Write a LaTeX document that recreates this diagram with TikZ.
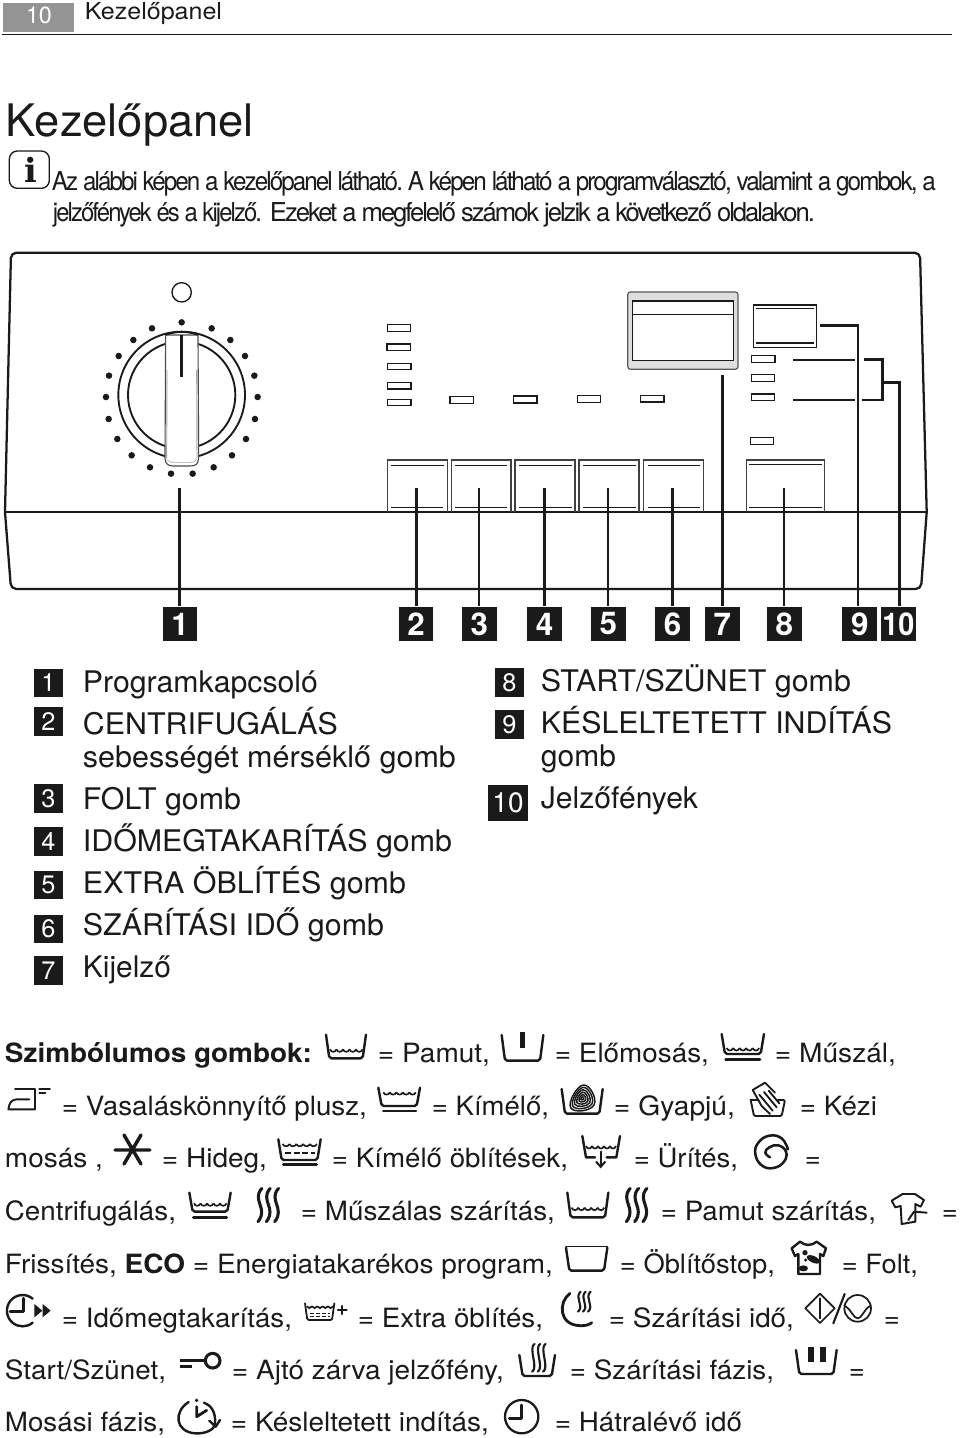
\documentclass[tikz,border=0pt]{standalone}
\usepackage{graphicx}
\usepackage{fontspec}
\usetikzlibrary{arrows.meta}
\setmainfont{TeX Gyre Heros}
\newfontfamily\slabfont{DejaVu Serif}
\newcounter{txc}
\definecolor{ink}{HTML}{1A1A1A}
\newcommand\fitted[2]{\sbox0{#2}\pgfmathsetmacro\sx{#1*0.75/(\the\wd0)}\scalebox{\sx}[1]{\usebox0}}
\newcommand\tx[5][body]{\stepcounter{txc}\node[#1,anchor=base west,inner sep=0pt] (txt\thetxc) at ({#2-0.3},#3) {\fitted{#4}{#5}};}
\newcommand\tub[4]{\draw[sym,rounded corners=1.5pt] (#1,#2) -- ({#1+10},#4) -- ({#3-10},#4) -- (#3,#2);}
\newcommand\wavy[5]{\foreach \i in {1,...,#3}{\draw[thinsym] ({#1+(\i-1)*#4},#2) .. controls ({#1+(\i-1)*#4+0.2*#4},{#2+#5}) and ({#1+(\i-1)*#4+0.8*#4},{#2+#5}) .. ({#1+\i*#4},#2);}}
\newcommand\heat[3]{\draw[heatl] plot[smooth,tension=0.8] coordinates {({#1+6},#2) ({#1-5},{#2+(#3-#2)*0.25}) ({#1+5},{#2+(#3-#2)*0.72}) ({#1-6},#3)};}
\tikzset{
 body/.style={font=\fontsize{19.9}{22}\selectfont,text=ink},
 bodyb/.style={font=\fontsize{19.9}{22}\selectfont\bfseries,text=ink},
 listf/.style={font=\fontsize{22.3}{24}\selectfont,text=ink},
 intro/.style={font=\fontsize{19.5}{22}\selectfont\addfontfeature{LetterSpace=-8},text=ink},
 titlef/.style={font=\fontsize{33.6}{36}\selectfont,text=ink},
 headf/.style={font=\fontsize{17.5}{20}\selectfont,text=ink},
 sym/.style={draw=ink,line width=1.8pt,line cap=round,line join=round},
 thinsym/.style={draw=ink,line width=1.25pt},
 heatl/.style={draw=ink,line width=2.3pt,line cap=round},
 pline/.style={draw=ink,line width=1.7pt,line join=round},
 lead/.style={draw=ink,line width=1.95pt},
 led/.style={draw=ink,line width=1.2pt,fill=white},
 btn/.style={draw=black!75,line width=0.95pt},
 btnl/.style={draw=ink,line width=1.1pt},
 dot/.style={circle,fill=ink,inner sep=0pt,minimum size=4.9pt},
 tag/.style={rectangle,fill=ink,text=white,inner sep=0pt,minimum size=26pt,font=\fontsize{23.5}{24}\selectfont\bfseries},
 ltag/.style={rectangle,fill=ink,text=white,inner sep=0pt,minimum size=21.5pt,font=\fontsize{19}{19}\selectfont},
 zA/.style={shift={(0,240)},scale=1/3},
 zB/.style={shift={(480,240)},scale=1/3},
 zC/.style={shift={(0,1020)},scale=1/3},
 zD/.style={shift={(480,1020)},scale=1/3},
 zE/.style={shift={(0,1230)},scale=1/3},
 zF/.style={shift={(480,1230)},scale=1/3},
 zG/.style={scale=1/3},
}
\begin{document}
\begin{tikzpicture}[x=0.75pt,y=-0.75pt]
\useasboundingbox (0,0) rectangle (960,1438);
\fill[white] (0,0) rectangle (960,1438);
% header
\fill[black!42] (3,3) rectangle (74,32);
\node[font=\fontsize{17.5}{20}\selectfont,text=white,anchor=base,inner sep=0pt] (pg) at (39,23.5) {10};
\tx[headf]{85}{19.3}{137}{Kezelőpanel}
\draw[draw=ink,line width=1.3pt] (2,34.5) -- (952,34.5);
\tx[titlef]{6}{136}{248}{Kezelőpanel}
% info icon
\begin{scope}[zG]
\draw[draw=ink,line width=1pt,rounded corners=6pt] (28,453) rectangle (148,565);
\node[font=\fontsize{25}{26}\selectfont\slabfont\bfseries,text=ink,anchor=base,inner sep=0pt] (infoi) at (91,548) {i};
\end{scope}
\tx[intro]{52}{190.7}{351}{Az alábbi képen a kezelőpanel látható.}
\tx[intro]{408}{190.7}{528}{A képen látható a programválasztó, valamint a gombok, a}
\tx[intro]{53}{221.7}{209}{jelzőfények és a kijelző.}
\tx[intro]{270}{221.7}{545}{Ezeket a megfelelő számok jelzik a következő oldalakon.}
% panel outline
\draw[pline,rounded corners=4pt] (5,512) -- (11,252.7) -- (920,252.7) -- (926.7,512);
\draw[pline,rounded corners=4pt] (5,512) -- (11,589) -- (921,589) -- (926.7,512);
\draw[pline] (5,512) -- (926.7,512);
% left part of panel
\begin{scope}[zA]
\draw[draw=ink,line width=1pt] (545,157) circle (29);
\foreach \x/\y in {545/247,635/265,691/300,735/348,763/407,773/471,765/537,738/597,696/646,641/682,578/701,513/701,450/682,395/646,352/597,326/537,318/471,327/407,356/348,400/300,456/265}
  \node[dot] at (\x,\y) {};
\draw[draw=ink,line width=1.4pt] (545,465) circle (190);
\draw[draw=ink,line width=1.4pt] (545,465) circle (161);
\draw[draw=black!70,line width=0.85pt,fill=white] (497,285) -- (495,655) .. controls (496,672) and (505,678) .. (520,678) -- (570,678) .. controls (588,678) and (594,672) .. (596,655) -- (594,285) -- cycle;
\draw[draw=black!35,line width=0.5pt] (502,660) .. controls (508,668) and (515,667) .. (525,667) -- (565,667) .. controls (580,667) and (585,667) .. (590,658);
\draw[draw=black!35,line width=0.7pt] (501,390) -- (500,655);
\draw[draw=black!35,line width=0.7pt] (590,390) -- (591,655);
\draw[draw=ink,line width=1.4pt] (497,284) .. controls (530,273) and (560,273) .. (594,284);
\draw[draw=ink,line width=2.3pt] (545,285) -- (545,410);
\foreach \a/\b/\c/\d in {1162/254/1232/274,1161/312/1232/331,1163/370/1233/389,1163/428/1233/447,1163/478/1233/497,1350/469/1420/490}
  \draw[led] (\a,\b) rectangle (\c,\d);
\draw[btn] (1162,817) -- (1162,660) -- (1343,660) -- (1343,817);
\draw[btnl] (1172,677) -- (1331,677) (1172,803) -- (1330,803);
\draw[btn] (1354,817) -- (1354,660) -- (1533,660) -- (1533,817);
\draw[btnl] (1365,677) -- (1520,677) (1365,803) -- (1520,803);
\coordinate (s1) at (539,745);
\coordinate (s2) at (1250,745);
\coordinate (s3) at (1437,745);
\end{scope}
% right part of panel
\begin{scope}[zB]
\foreach \a/\b/\c/\d in {101/468/171/489,292/467/362/488,482/466/552/486,815/346/885/367,814/404/884/424,814/462/884/482,811/593/881/613}
  \draw[led] (\a,\b) rectangle (\c,\d);
\foreach \a/\b in {105/285,297/477,490/671}{
  \draw[btn] (\a,817) -- (\a,660) -- (\b,660) -- (\b,817);
  \draw[btnl] ({\a+13},677) -- ({\b-10},677) ({\a+13},803) -- ({\b-10},803);
}
\draw[btn] (799,817) -- (799,660) -- (1034,660) -- (1034,817);
\draw[btnl] (807,673) -- (1025,673) (807,802) -- (1025,802);
\draw[draw=ink,line width=1.1pt] (821,195) rectangle (1009,322);
\draw[btnl] (828,205) -- (1002,205) (828,309) -- (1002,309);
\draw[draw=black!65,fill=black!13,line width=0.9pt,rounded corners=2pt] (443,156) rectangle (774,388);
\draw[draw=ink,fill=white,line width=1.1pt] (458,183) rectangle (761,362);
\draw[draw=ink,line width=1.1pt] (458,223) -- (761,223);
\coordinate (s4) at (194,745);
\coordinate (s5) at (384,745);
\coordinate (s6) at (577,745);
\coordinate (s7) at (728,406);
\coordinate (s8) at (912,745);
\coordinate (s9) at (1020,257);
\coordinate (k9) at (1134,257);
\coordinate (k10) at (1258,427);
\coordinate (j10) at (1207,427);
\coordinate (b1) at (1207,358);
\coordinate (b2) at (1207,480);
\coordinate (l1a) at (940,360);
\coordinate (l1b) at (1124,360);
\coordinate (l1c) at (1152,358);
\coordinate (l2a) at (940,480);
\coordinate (l2b) at (1124,480);
\coordinate (l2c) at (1146,480);
\end{scope}
% number tags
\foreach \n/\x in {1/180,2/416,3/479.3,4/544.7,5/608.3,6/672.7,7/722.3,8/784.3,9/859.7}
  \node[tag] (tag\n) at (\x,624) {\n};
\node[tag] (tag10) at (898.3,624) {\scalebox{0.92}[1]{10}};
\foreach \n in {1,...,8}
  \draw[lead] (s\n) -- (s\n |- tag\n.north);
\draw[lead] (s9) -- (k9) -- (k9 |- tag9.north);
\draw[lead] (tag10.north -| k10) -- (k10) -- (j10);
\draw[lead] (l1a) -- (l1b);
\draw[lead] (l1c) -- (b1) -- (b2) -- (l2c);
\draw[lead] (l2a) -- (l2b);
% list
\foreach \n/\x/\y in {1/48.5/683,2/48.5/721.5,3/48.5/798.5,4/48.5/841.3,5/48.5/885,6/48.5/929,7/48.5/970.5,8/509.5/682.7,9/509.5/724.8}
  \node[ltag] (lt\n) at (\x,\y) {\n};
\node[ltag,minimum width=29.6pt,minimum height=26.8pt,font=\fontsize{21}{21}\selectfont] (lt10) at (508,803) {10};
\tx[listf]{83}{692}{235}{Programkapcsoló}
\tx[listf]{83}{734}{255}{CENTRIFUGÁLÁS}
\tx[listf]{83}{767}{373}{sebességét mérséklő gomb}
\tx[listf]{83}{809}{158}{FOLT gomb}
\tx[listf]{83}{851}{369}{IDŐMEGTAKARÍTÁS gomb}
\tx[listf]{83}{893}{323}{EXTRA ÖBLÍTÉS gomb}
\tx[listf]{83}{935}{301}{SZÁRÍTÁSI IDŐ gomb}
\tx[listf]{83}{977}{88}{Kijelző}
\tx[listf]{541}{691}{310}{START/SZÜNET gomb}
\tx[listf]{541}{733}{351}{KÉSLELTETETT INDÍTÁS}
\tx[listf]{541}{766}{75}{gomb}
\tx[listf]{541}{808}{157}{Jelzőfények}
% symbol text
\tx[bodyb]{5}{1062}{307}{Szimbólumos gombok:}
\tx{378}{1062}{112}{= Pamut,}
\tx{555}{1062}{154}{= Előmosás,}
\tx{775}{1062}{121}{= Műszál,}
\tx{62}{1115}{305}{= Vasaláskönnyítő plusz,}
\tx{432}{1115}{117}{= Kímélő,}
\tx{614}{1115}{121}{= Gyapjú,}
\tx{800}{1115}{77}{= Kézi}
\tx{5}{1167.5}{98}{mosás ,}
\tx{162}{1167.5}{105}{= Hideg,}
\tx{332}{1167.5}{236}{= Kímélő öblítések,}
\tx{634}{1167.5}{104}{= Ürítés,}
\tx{805}{1167.5}{16}{=}
\tx{5}{1220.5}{171}{Centrifugálás,}
\tx{301}{1220.5}{254}{= Műszálas szárítás,}
\tx{661}{1220.5}{215}{= Pamut szárítás,}
\tx{942}{1220.5}{16}{=}
\tx{5}{1273.5}{548}{Frissítés, \textbf{ECO} = Energiatakarékos program,}
\tx{620}{1273.5}{155}{= Öblítőstop,}
\tx{842}{1273.5}{76}{= Folt,}
\tx{62}{1327}{230}{= Időmegtakarítás,}
\tx{358}{1327}{185}{= Extra öblítés,}
\tx{609}{1327}{185}{= Szárítási idő,}
\tx{884}{1327}{16}{=}
\tx{5}{1379.5}{161}{Start/Szünet,}
\tx{232}{1379.5}{272}{= Ajtó zárva jelzőfény,}
\tx{570}{1379.5}{204}{= Szárítási fázis,}
\tx{849}{1379.5}{16}{=}
\tx{5}{1431.5}{160}{Mosási fázis,}
\tx{231}{1431.5}{258}{= Késleltetett indítás,}
\tx{555}{1431.5}{187}{= Hátralévő idő}
% symbols rows 1-4, left
\begin{scope}[zC]
\tub{978}{44}{1098}{115}
\wavy{990}{88}{5}{19.5}{10}
% iron
\draw[sym,line width=1.4pt] (45,207) -- (105,207) -- (105,268) -- (25,268) .. controls (27,250) and (35,238) .. (50,238) -- (88,238);
\draw[sym,line width=1.4pt] (118,207) -- (150,207) (118,220) -- (136,220);
% Kimelo
\tub{1135}{203}{1260}{258}
\wavy{1150}{217}{5}{19.5}{9}
\draw[sym,line width=2.1pt] (1150,273) -- (1248,273);
% Hideg
\draw[sym,line width=2.6pt] (345,390) -- (450,390) (372,345) -- (423,432) (423,345) -- (372,432);
% gentle rinse
\tub{835}{358}{962}{420}
\wavy{848}{372}{5}{20.5}{9}
\draw[sym,dash pattern=on 4.5pt off 2pt,line width=1.4pt,line cap=butt] (855,398) -- (945,398);
\draw[sym,line width=2.1pt] (850,434) -- (950,434);
% syn dry
\tub{568}{518}{692}{575}
\wavy{582}{550}{5}{19.5}{10}
\draw[sym,line width=2.1pt] (580,593) -- (680,593);
\heat{780}{505}{605}
\heat{805}{505}{605}
\heat{830}{505}{605}
\end{scope}
% symbols rows 1-4, right
\begin{scope}[zD]
\tub{65}{45}{190}{122}
\fill[ink] (120,35) rectangle (136,85);
\tub{725}{42}{852}{102}
\wavy{740}{84}{5}{19.5}{10}
\draw[sym,line width=2.1pt] (737,118) -- (840,118);
% wool
\tub{245}{207}{368}{281}
\foreach \s in {1,0.82,0.64,0.46,0.28,0.12}{
 \begin{scope}[shift={(307,235)},scale=\s]
 \draw[draw=ink,line width=1.1pt] plot[smooth cycle,tension=1] coordinates {(3,-40) (35,20) (-35,28)};
 \end{scope}}
% hand
\draw[sym,line width=1.4pt,rounded corners=1pt] (812,240) -- (822,288) -- (905,288) -- (915,240) -- (893,240);
\draw[sym,line width=1.4pt] (812,240) -- (835,240);
\draw[sym,line width=1.4pt] (885,218) -- (855,188) -- (818,210) -- (845,258) -- (870,282) (838,224) -- (878,272) (852,216) -- (890,262) (866,212) -- (898,250);
% drain
\draw[sym] (307,348) -- (318,412) -- (345,412);
\draw[sym] (420,348) -- (409,412) -- (380,412);
\wavy{318}{378}{5}{18}{10}
\draw[sym,line width=1.5pt,-{Straight Barb[length=4pt,width=7pt]}] (362,395) -- (362,445);
% spiral
\draw[sym,line width=1.9pt] plot[smooth,tension=0.75] coordinates {(924,388) (905,355) (868,347) (835,368) (826,402) (845,436) (880,444) (912,425) (918,395) (895,376) (868,382) (856,398) (870,412)};
% cotton dry
\tub{262}{518}{385}{592}
\wavy{275}{563}{5}{19.5}{10}
\heat{445}{505}{605}
\heat{470}{505}{605}
\heat{495}{505}{605}
% T-shirt
\draw[sym,line width=1.45pt] (1268,522) -- (1305,522) -- (1332,540) -- (1322,560) -- (1306,552) -- (1306,605) -- (1265,612) -- (1262,558) -- (1246,562) -- (1235,542) -- cycle;
\draw[sym,line width=1.45pt] (1285,600) -- (1302,575) -- (1340,578);
\end{scope}
% symbols rows 5-8, left
\begin{scope}[zE]
% clock with arrows
\draw[sym,line width=1.8pt] (98,206) arc (-50:-310:47);
\draw[sym,line width=2pt] (70,205) -- (70,245) -- (30,245);
\fill[ink] (103,222) -- (127,242) -- (103,262) -- cycle;
\fill[ink] (128,222) -- (152,242) -- (128,262) -- cycle;
% small tub +
\draw[sym,line width=1.3pt,rounded corners=1pt] (915,220) -- (922,270) -- (996,270) -- (1003,220);
\wavy{920}{229}{5}{16}{7}
\draw[sym,line width=1.2pt,line cap=butt,dash pattern=on 3.2pt off 1.2pt] (930,250) -- (990,250) (930,259) -- (990,259);
\draw[sym,line width=1.7pt] (1014,240) -- (1040,240) (1027,228) -- (1027,252);
% key
\draw[sym,line width=2.3pt] (638,392) circle (22);
\draw[draw=ink,line width=2.7pt] (540,392) -- (616,392);
\draw[draw=ink,line width=2.7pt] (540,410) -- (575,410);
% delayed start
\draw[sym,line width=1.8pt] (566,516) .. controls (520,545) and (525,605) .. (585,610) .. controls (615,612) and (640,600) .. (645,585);
\draw[sym,line width=1.8pt] (612,518) .. controls (632,525) and (648,545) .. (645,580);
\draw[sym,line width=1.8pt] (628,572) -- (647,590) -- (660,570);
\draw[sym,line width=2.1pt] (590,530) -- (590,560) -- (620,541);
\fill[ink] (590,511) circle (5.5);
\end{scope}
% symbols rows 5-8, right
\begin{scope}[zF]
\draw[sym,rounded corners=1.5pt] (258,53) -- (268,122) -- (372,122) -- (382,53);
\draw[sym,line width=1.1pt] (258,50) -- (382,50);
% stained shirt
\draw[sym,line width=1.8pt] (960,35) .. controls (975,48) and (995,48) .. (1010,35) -- (1038,55) -- (1030,78) -- (1020,72) -- (1020,132) -- (955,132) -- (955,72) -- (945,78) -- (935,55) -- cycle;
\fill[ink] (975,68) circle (8);
\fill[ink,rotate around={-25:(1000,88)}] (1000,88) ellipse (21 and 10);
\fill[ink] (970,115) ellipse (14 and 9);
\fill[ink] (977,90) circle (5);
% dry time
\draw[sym,line width=2.1pt] (270,190) .. controls (235,215) and (235,285) .. (300,287) .. controls (315,288) and (328,284) .. (335,278);
\foreach \x in {298,313,328}
 \draw[sym,line width=1.6pt] plot[smooth,tension=0.8] coordinates {({\x+4},185) ({\x-3},200) ({\x+3},230) ({\x-4},245)};
% start/pause
\draw[sym,line width=1.3pt] (1020,191) -- (1064,235) -- (1020,279) -- (976,235) -- cycle;
\draw[sym,line width=1.3pt] (1020,205) -- (1020,265);
\draw[sym,line width=1.6pt] (1094,192) -- (1060,280);
\draw[sym,line width=1.3pt] (1133,235) circle (40);
\draw[sym,line width=1.3pt] (1096,228) .. controls (1115,240) and (1120,265) .. (1133,265) .. controls (1146,265) and (1150,240) .. (1170,228);
% dry phase
\tub{118}{375}{225}{438}
\foreach \x in {160,177,193}
 \draw[sym,line width=1.6pt] plot[smooth,tension=0.8] coordinates {({\x+4},342) ({\x-3},358) ({\x+3},408) ({\x-4},425)};
% wash phase
\tub{948}{360}{1070}{432}
\fill[ink] (985,350) rectangle (1003,395);
\fill[ink] (1020,350) rectangle (1038,395);
% remaining time
\draw[sym,line width=1.7pt] (125,560) circle (50);
\draw[sym,line width=2.1pt] (125,525) -- (125,565) -- (88,565);
\end{scope}
\end{tikzpicture}
\end{document}
